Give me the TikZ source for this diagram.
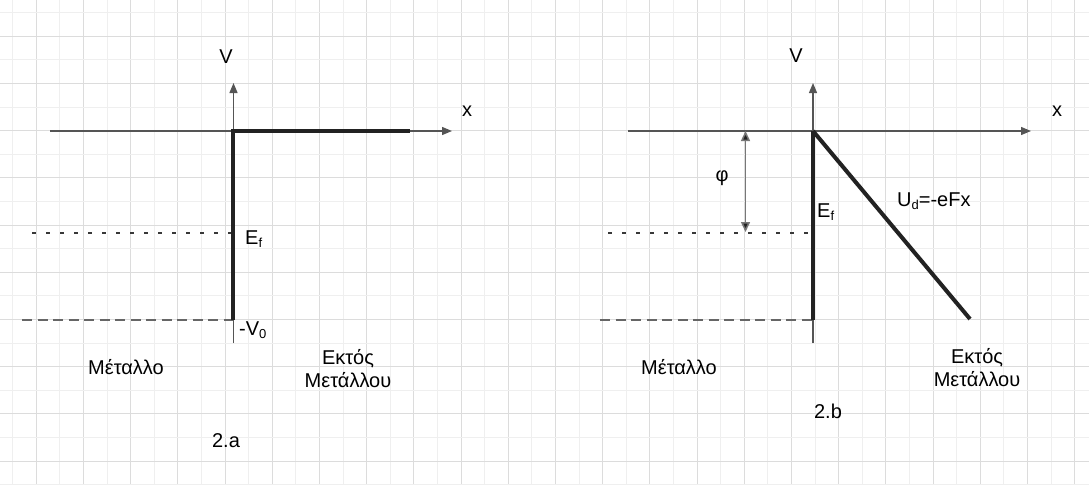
\documentclass[tikz,border=0pt]{standalone}
\usepackage{fontspec}
\setmainfont{Liberation Sans}
\usetikzlibrary{arrows.meta}
\definecolor{minorc}{HTML}{EFEFEF}
\definecolor{majorc}{HTML}{DCDCDC}
\definecolor{thickc}{HTML}{222222}
\definecolor{axisc}{HTML}{555555}
\definecolor{dashc}{HTML}{666666}
\definecolor{phic}{HTML}{777777}
\newcommand\lowsub[1]{\raisebox{-0.3ex}{\fontsize{13}{13}\selectfont #1}}
\tikzset{
  minorgrid/.style={draw=minorc,line width=1pt},
  majorgrid/.style={draw=majorc,line width=1pt},
  axisline/.style={draw=axisc,line width=1.3pt,-{Triangle[length=10pt,width=8pt]}},
  thickline/.style={draw=thickc,line width=4pt},
  dottedlevel/.style={draw=thickc!90,line width=2pt,dash pattern=on 3.5pt off 10.5pt},
  dashedlevel/.style={draw=dashc,line width=2pt,dash pattern=on 10pt off 5.5pt},
  phiarrow/.style={draw=phic,line width=1.5pt,{Triangle[length=10pt,width=9pt,fill=thickc]}-{Triangle[length=10pt,width=9pt,fill=thickc]}},
  lbl/.style={font=\fontsize{20}{23}\selectfont,inner sep=0pt},
  word/.style={font=\fontsize{20}{23}\selectfont,inner sep=0pt,align=center}
}
\begin{document}
\begin{tikzpicture}[x=1pt,y=-1pt]
\useasboundingbox (0,0) rectangle (1089,485);
\fill[white] (0,0) rectangle (1089,485);
% grid
\foreach \i in {0,2,...,44}{\pgfmathsetmacro\xx{12.7+23.6*\i}\draw[minorgrid] (\xx,0) -- (\xx,485);}
\foreach \i in {1,3,...,45}{\pgfmathsetmacro\xx{12.7+23.6*\i}\draw[majorgrid] (\xx,0) -- (\xx,485);}
\foreach \i in {0,2,...,20}{\pgfmathsetmacro\yy{12.7+23.6*\i}\draw[minorgrid] (0,\yy) -- (1089,\yy);}
\foreach \i in {1,3,...,19}{\pgfmathsetmacro\yy{12.7+23.6*\i}\draw[majorgrid] (0,\yy) -- (1089,\yy);}

% ---------- panel a ----------
\coordinate (aXs) at (50,131);
\coordinate (aXe) at (452,131);
\coordinate (aYs) at (233.5,343);
\coordinate (aYe) at (233.5,83);
\coordinate (aO) at (232.5,131);
\coordinate (aH) at (410,131);
\coordinate (aB) at (232.5,319.5);
\coordinate (aEfL) at (32,232.5);
\coordinate (aEfR) at (231,232.5);
\coordinate (aV0L) at (22,319.5);
\draw[axisline] (aXs) -- (aXe);
\draw[axisline] (aYs) -- (aYe);
\draw[dottedlevel] (aEfL) -- (aEfR);
\draw[dashedlevel] (aV0L) -- (aB);
\draw[thickline] (aB) -- (aO) -- (aH);
\node[lbl] (aVl) at (226,57) {V};
\node[lbl] (axl) at (467,111) {x};
\node[lbl,anchor=west] (aEf) at (245,239) {E\lowsub{f}};
\node[lbl,anchor=west] (aV0) at (239,330) {-V\lowsub{0}};
\node[word] (aMet) at (126,367) {Μέταλλο};
\node[word] (aOut) at (348,369) {Εκτός\\Μετάλλου};
\node[lbl] (aCap) at (226,441) {2.a};

% ---------- panel b ----------
\coordinate (bXs) at (628,131);
\coordinate (bXe) at (1031,131);
\coordinate (bYs) at (813,343);
\coordinate (bYe) at (813,83);
\coordinate (bO) at (813,131);
\coordinate (bB) at (813,319.5);
\coordinate (bD) at (970,319);
\coordinate (bEfL) at (608,232.5);
\coordinate (bEfR) at (811,232.5);
\coordinate (bV0L) at (600,319.5);
\coordinate (bPt) at (745.5,131);
\coordinate (bPb) at (745.5,232);
\draw[axisline] (bXs) -- (bXe);
\draw[axisline] (bYs) -- (bYe);
\draw[dottedlevel] (bEfL) -- (bEfR);
\draw[dashedlevel] (bV0L) -- (bB);
\draw[thickline] (bB) -- (bO);
\draw[thickline,line cap=butt] (bO) -- (bD);
\draw[phiarrow] (bPt) -- (bPb);
\node[lbl] (bVl) at (796,56) {V};
\node[lbl] (bxl) at (1057,111) {x};
\node[lbl] (bphi) at (722,178) {φ};
\node[lbl,anchor=west] (bEf) at (817,212) {E\lowsub{f}};
\node[lbl,anchor=west] (bUd) at (897,201) {U\lowsub{d}=-eFx};
\node[word] (bMet) at (679,367) {Μέταλλο};
\node[word] (bOut) at (977,368) {Εκτός\\Μετάλλου};
\node[lbl] (bCap) at (828,411) {2.b};
\end{tikzpicture}
\end{document}
